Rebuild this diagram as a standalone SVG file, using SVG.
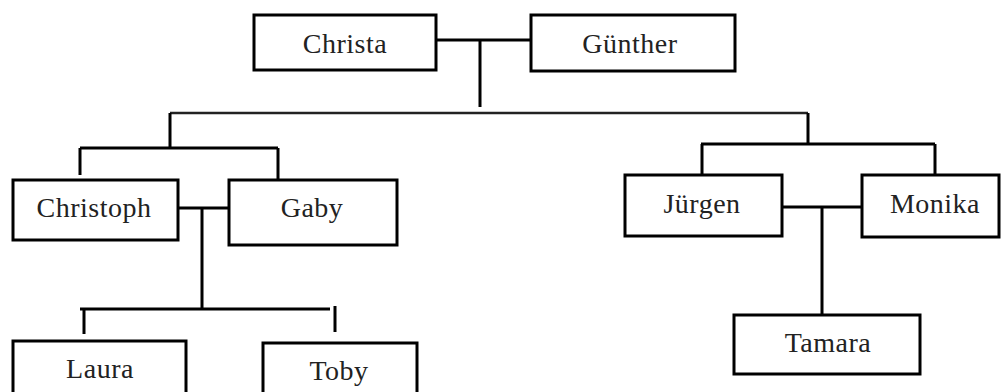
<svg xmlns="http://www.w3.org/2000/svg" width="1001" height="392" viewBox="0 0 1001 392">
<style>
.box{fill:#fff;stroke:#000;stroke-width:3}
.lbl{font-family:"Liberation Serif","Times New Roman",serif;font-size:28px;letter-spacing:0.5px;fill:#222;text-anchor:middle}
.ln{stroke:#000;stroke-width:3;fill:none}
.thin{stroke:#222;stroke-width:2.5;fill:none}
</style>
<rect width="1001" height="392" fill="#fff"/>
<g id="connectors">
<path class="ln" d="M436 40H531M480 40V107"/>
<path class="thin" d="M170 113H808"/>
<path class="ln" d="M170 113V148M80 148H278M80 148V175M278 148V180"/>
<path class="ln" d="M808 113V144M701 144H935M702 144V175M935 144V175"/>
<path class="ln" d="M178 208H229M202 208V309M80 309H330M84 309V334M335 306V332"/>
<path class="ln" d="M782 207H862M822 207V315"/>
</g>
<g id="christa"><rect class="box" x="254" y="15" width="182" height="55"/><text class="lbl" x="345" y="53">Christa</text></g>
<g id="guenther"><rect class="box" x="531" y="15" width="204" height="56"/><text class="lbl" x="630" y="53">Günther</text></g>
<g id="christoph"><rect class="box" x="13" y="180" width="165" height="60"/><text class="lbl" x="94" y="217">Christoph</text></g>
<g id="gaby"><rect class="box" x="229" y="180" width="168" height="65"/><text class="lbl" x="312" y="217">Gaby</text></g>
<g id="juergen"><rect class="box" x="625" y="175" width="157" height="61"/><text class="lbl" x="702" y="213">Jürgen</text></g>
<g id="monika"><rect class="box" x="862" y="175" width="137" height="62"/><text class="lbl" x="935" y="213">Monika</text></g>
<g id="laura"><rect class="box" x="13" y="341" width="173" height="60"/><text class="lbl" x="100" y="378">Laura</text></g>
<g id="toby"><rect class="box" x="263" y="343" width="154" height="60"/><text class="lbl" x="339" y="380">Toby</text></g>
<g id="tamara"><rect class="box" x="734" y="315" width="186" height="59"/><text class="lbl" x="828" y="352">Tamara</text></g>
</svg>
